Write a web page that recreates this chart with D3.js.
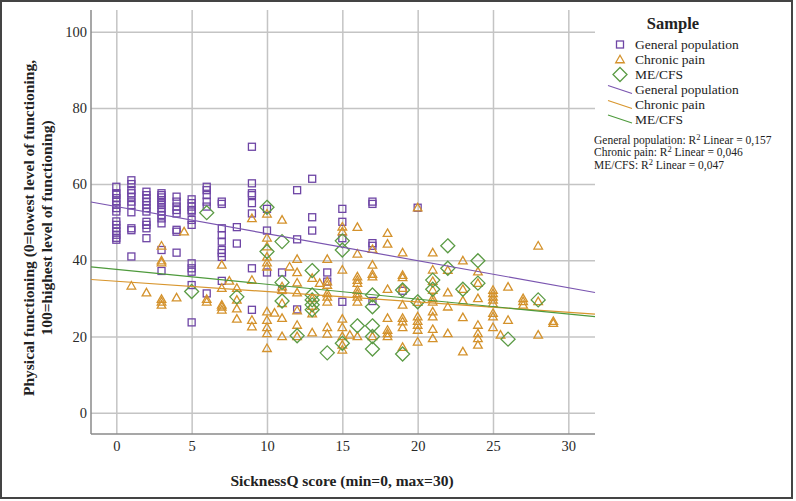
<!DOCTYPE html>
<html><head><meta charset="utf-8">
<script src="https://cdn.jsdelivr.net/npm/d3@7/dist/d3.min.js"></script>
<style>body{margin:0;background:#fff}svg{display:block}text{font-family:"Liberation Serif","Times New Roman",serif}</style>
</head><body>
<svg id="c" width="796" height="501"></svg>
<script>
// ---- data ----
const xTicks = [0, 5, 10, 15, 20, 25, 30];
const yTicks = [0, 20, 40, 60, 80, 100];
const seriesNames = ["General population", "Chronic pain", "ME/CFS"];
const rSquared = ["0,157", "0,046", "0,047"];
const fitIntercept = [54.1, 34.5, 37.6];
const fitSlope = [-0.71, -0.272, -0.39];

const genPop = [
 [0,59.3],[0,57.6],[0,57.2],[0,56.3],[0,55.4],[0,54.6],[0,53.7],[0,52.8],[0,50.2],[0,49.3],[0,48.4],[0,47.6],[0,46.7],[0,45.9],[0,45.4],
 [1,61],[1,60],[1,58.4],[1,57.6],[1,56.7],[1,55.4],[1,54.5],[1,52.6],[1,48.4],[1,47.9],[1,41],
 [2,58],[2,57.1],[2,56.3],[2,55.4],[2,54.5],[2,53.7],[2,52.8],[2,50.1],[2,49.3],[2,48.4],[2,45.8],
 [3,57.6],[3,57.1],[3,56.5],[3,55.8],[3,55.1],[3,54.5],[3,53.6],[3,52.8],[3,51.9],[3,51],[3,49.7],[3,42.7],[3,37.2],
 [4,56.7],[4,55.4],[4,54.1],[4,53.2],[4,52.3],[4,48],[4,47.5],[4,42],
 [5,56],[5,55],[5,54.1],[5,53.2],[5,52.8],[5,50.6],[5,49.3],[5,39.2],[5,37.9],[5,37],[5,33.5],[5,23.7],
 [6,59.3],[6,58.4],[6,57.1],[6,55.4],[6,54.1],[6,31.3],
 [7,55.4],[7,54.8],[7,48.4],[7,46.6],[7,44.9],[7,42.7],[7,41.9],[7,40.9],[7,34.6],
 [8,48.7],[8,44.4],
 [9,69.8],[9,60.2],[9,57.6],[9,57.1],[9,55],[9,52.3],[9,37.9],[9,27],
 [10,53.5],[10,47.8],[10,36.8],
 [11,36.8],[11,32.2],
 [12,58.4],[12,45.5],[12,27.1],
 [13,61.4],[13,51.3],[13,47.8],
 [14,36.8],[14,34.4],
 [15,53.5],[15,50.1],[15,45.8],[15,29.1],
 [17,55.4],[17,54.8],[17,44.5],[17,43.8],[17,29.3],
 [19,32],[20,53.8]
];
const chronicPain = [
 [1,33.3],[2,31.5],
 [3,43.8],[3,39.9],[3,39.4],[3,29.8],[3,29.1],[3,28.3],
 [4,30.2],[4.5,47.5],[6,29.1],[6,29.8],
 [7,38.8],[7,32.7],[7,28.3],[7,27.8],[7,27],[7.5,34.6],
 [8,32.7],[8,29.6],[8,27.3],[8,24.6],
 [9,51],[9,34.8],[9,24.3],[9,22.6],
 [10,52.2],[10,45.9],[10,43.6],[10,40.9],[10,39.4],[10,38.3],[10,26.5],[10,24.3],[10,22.4],[10,20.8],[10,16.9],[10.5,26.2],
 [11,50.6],[11,33.1],[11,32.2],[11,28.7],[11,24.8],[11,20],[11.5,38.3],
 [12,40.3],[12,36.8],[12,34.1],[12,31.5],[12,26.8],[12,23],[12,20],
 [13,35.3],[13,30],[13,28],[13,26],[13,21],[13.5,34],
 [14,40.3],[14,34.4],[14,33.5],[14,31.3],[14,30.4],[14,29.1],[14,22.4],[14,20.7],
 [15,48.8],[15,47.5],[15,37.5],[15,24.6],[15,22.4],[15,20],[15,17.8],[15,16.5],[15.5,20.4],
 [16,48.7],[16,41.7],[16,35.7],[16,34.8],[16,34],[16,32.2],[16,31.3],[16,30.4],[16,29.1],[16,20],
 [17,42.9],[17,38.8],[17,36.4],[17,35.7],[17,20],
 [18,47.1],[18,44.3],[18,32.4],[18,24.8],[18,21.7],[18,20.8],[18,20],
 [19,42],[19,36.1],[19,35.5],[19,32.7],[19,28.3],[19,24.8],[19,23.9],[19,22.4],[19,17.2],
 [20,53.8],[20,29],[20,25.2],[20,24],[20,23],[20,21.7],[20,18.6],
 [21,42],[21,37.5],[21,34.5],[21,32.2],[21,30],[21,29.1],[21,26.5],[21,25.2],[21,21.9],[21,19.5],
 [22,37.4],[22,31.5],[22,27.8],[22,20.8],
 [23,39.9],[23,32.4],[23,29.4],[23,25],[23,16],
 [24,37],[24,34],[24,30],[24,23],[24,20.8],[24,19.5],[24,17.8],
 [25,32.2],[25,31.3],[25,30.4],[25,29.6],[25,28.7],[25,26.1],[25,25.2],[25,22.4],[25.5,20.4],
 [26,33],[26,24.3],
 [27,30],[27,29.2],[27,28.3],
 [28,43.8],[28,29.2],[28,20.4],
 [29,24],[29,23.5]
];
const meCfs = [
 [5,31.8],[6,52.5],[8,30.4],[10,53.9],[10,42.3],[11,44.9],[11,34.2],[11,29.3],[12,20.2],
 [13,37.3],[13,30.9],[13,29.6],[13,28.3],[13,27],[14,15.7],[15,45.1],[15,42.7],[15,18.2],
 [16,22.8],[17,30.9],[17,27.8],[17,22.8],[17,20],[17,16.7],[19,32.2],[19,15.4],[20,29.1],
 [21,34.8],[21,32.4],[22,43.8],[22,37.9],[23,32.4],[24,39.9],[24,34],[26,19.3],[28,29.6]
];

// ---- drawing ----
const colors = ["#6E45A5", "#D4922C", "#5B9B45"];
const lineColors = ["#7A55B0", "#D8962E", "#4E9A3C"];
const svg = d3.select("#c");
const L = 91, R = 595, T = 10, B = 434;
const x = d3.scaleLinear().domain([-1.68, 31.77]).range([L, R]);
const y = d3.scaleLinear().domain([-5.6, 105.7]).range([B, T]);

svg.append("rect").attr("x",1).attr("y",1).attr("width",791).attr("height",497)
  .attr("fill","#fff").attr("stroke","#444").attr("stroke-width",2);

// gridlines
const gx = svg.append("g").attr("transform",`translate(0,${B})`)
  .call(d3.axisBottom(x).tickValues(xTicks).tickSizeInner(-(B-T)).tickSizeOuter(0).tickPadding(7).tickFormat(d3.format("d")));
const gy = svg.append("g").attr("transform",`translate(${L},0)`)
  .call(d3.axisLeft(y).tickValues(yTicks).tickSizeInner(-(R-L)).tickSizeOuter(0).tickPadding(4).tickFormat(d3.format("d")));
[gx, gy].forEach(g => {
  g.select(".domain").remove();
  g.selectAll(".tick line").attr("stroke","#c4c4c4").attr("stroke-width",1.5);
  g.selectAll(".tick text").attr("fill","#2a2a2a").style("font-size","14.5px").style("font-family","Liberation Serif");
});
// axis lines
svg.append("line").attr("x1",L).attr("x2",L).attr("y1",T).attr("y2",B).attr("stroke","#8a8a8a").attr("stroke-width",1.5);
svg.append("line").attr("x1",L).attr("x2",R).attr("y1",B).attr("y2",B).attr("stroke","#8a8a8a").attr("stroke-width",1.5);

// markers
const sq = 7, tri = 4.3, dia = 7;
svg.append("g").selectAll("rect").data(genPop).join("rect")
  .attr("x", d => x(d[0]) - sq/2).attr("y", d => y(d[1]) - sq/2)
  .attr("width", sq).attr("height", sq)
  .attr("fill","none").attr("stroke",colors[0]).attr("stroke-width",1.3);
svg.append("g").selectAll("path").data(chronicPain).join("path")
  .attr("d", d => { const cx=x(d[0]), cy=y(d[1]); return `M${cx},${cy-tri}L${cx+tri},${cy+tri*0.75}L${cx-tri},${cy+tri*0.75}Z`; })
  .attr("fill","none").attr("stroke",colors[1]).attr("stroke-width",1.3);
svg.append("g").selectAll("path").data(meCfs).join("path")
  .attr("d", d => { const cx=x(d[0]), cy=y(d[1]); return `M${cx},${cy-dia}L${cx+dia},${cy}L${cx},${cy+dia}L${cx-dia},${cy}Z`; })
  .attr("fill","none").attr("stroke",colors[2]).attr("stroke-width",1.3);

// fit lines
const xd = x.domain();
seriesNames.forEach((n,i) => {
  svg.append("line")
    .attr("x1", x(xd[0])).attr("y1", y(fitIntercept[i] + fitSlope[i]*xd[0]))
    .attr("x2", x(xd[1])).attr("y2", y(fitIntercept[i] + fitSlope[i]*xd[1]))
    .attr("stroke", lineColors[i]).attr("stroke-width",1.2);
});

// axis titles
svg.append("text").attr("x",342).attr("y",486).attr("text-anchor","middle")
  .style("font-size","15.5px").style("font-weight","bold").attr("fill","#222")
  .text("SicknessQ score (min=0, max=30)");
const yt = svg.append("text").attr("transform","translate(36,228) rotate(-90)").attr("text-anchor","middle")
  .style("font-size","15.5px").style("font-weight","bold").attr("fill","#222");
yt.append("tspan").attr("x",0).attr("dy",-2).text("Physical functioning (0=lowest level of functioning,");
yt.append("tspan").attr("x",0).attr("dy",18).text("100=highest level of functioning)");

// legend
const lg = svg.append("g");
lg.append("text").attr("x",673).attr("y",29).attr("text-anchor","middle")
  .style("font-size","16.5px").style("font-weight","bold").attr("fill","#222").text("Sample");
const rows = [44.5, 59.5, 74.5, 89.5, 104.5, 119];
seriesNames.forEach((n,i) => {
  const cy = rows[i], cx = 620;
  if (i===0) lg.append("rect").attr("x",cx-3.5).attr("y",cy-3.5).attr("width",7).attr("height",7).attr("fill","none").attr("stroke",colors[0]).attr("stroke-width",1.3);
  if (i===1) lg.append("path").attr("d",`M${cx},${cy-tri}L${cx+tri},${cy+tri*0.75}L${cx-tri},${cy+tri*0.75}Z`).attr("fill","none").attr("stroke",colors[1]).attr("stroke-width",1.3);
  if (i===2) lg.append("path").attr("d",`M${cx},${cy-dia}L${cx+dia},${cy}L${cx},${cy+dia}L${cx-dia},${cy}Z`).attr("fill","none").attr("stroke",colors[2]).attr("stroke-width",1.3);
  lg.append("text").attr("x",635).attr("y",cy+4.5).style("font-size","13.5px").attr("fill","#222").text(n);
});
seriesNames.forEach((n,i) => {
  const cy = rows[3+i];
  lg.append("line").attr("x1",608).attr("y1",cy-4).attr("x2",632).attr("y2",cy+4).attr("stroke",lineColors[i]).attr("stroke-width",1.2);
  lg.append("text").attr("x",635).attr("y",cy+4.5).style("font-size","13.5px").attr("fill","#222").text(n);
});
const r2y = [143.5, 156, 168.5];
seriesNames.forEach((n,i) => {
  const t = lg.append("text").attr("x",594).attr("y",r2y[i]).style("font-size","11.5px").attr("fill","#222");
  t.append("tspan").text(n + ": R");
  t.append("tspan").attr("dy",-4).style("font-size","8.5px").text("2");
  t.append("tspan").attr("dy",4).text(" Linear = " + rSquared[i]);
});
</script>
</body></html>
